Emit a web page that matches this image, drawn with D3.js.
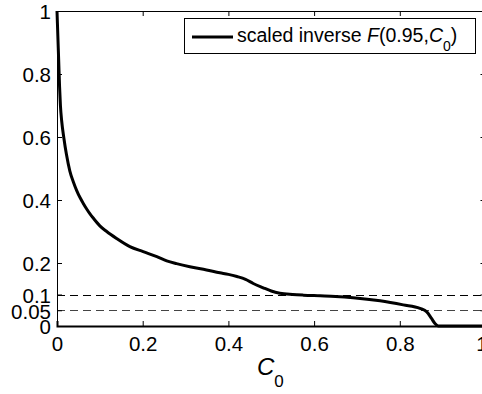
<!DOCTYPE html>
<meta charset="utf-8">
<body style="margin:0;background:#fff">
<style>
text { font-family: "Liberation Sans", Arial, sans-serif; fill: #000; }
.curve { fill: none; stroke: #000; stroke-width: 3px; stroke-linejoin: round; }
.frame line, .frame path { stroke: #000; }
</style>
<script src="https://cdn.jsdelivr.net/npm/d3@7"></script>
<script>

// curve: C0 -> scaled inverse F(0.95, C0)
var c0 = [0, 0.002, 0.004, 0.006, 0.008, 0.011, 0.016, 0.022, 0.030, 0.038, 0.046, 0.054, 0.061, 0.070,
          0.077, 0.085, 0.100, 0.116, 0.139, 0.170, 0.201, 0.233, 0.256, 0.279, 0.310, 0.349, 0.380,
          0.400, 0.420, 0.440, 0.458, 0.480, 0.500, 0.520, 0.550, 0.575, 0.614, 0.650, 0.691, 0.754,
          0.808, 0.847, 0.863, 0.874, 0.882, 0.890, 1];
var fval = [1, 0.92, 0.84, 0.76, 0.70, 0.650, 0.597, 0.545, 0.492, 0.458, 0.430, 0.407, 0.390, 0.370,
            0.356, 0.342, 0.318, 0.300, 0.278, 0.252, 0.236, 0.220, 0.207, 0.198, 0.188, 0.178, 0.169,
            0.164, 0.157, 0.148, 0.135, 0.122, 0.111, 0.104, 0.100, 0.098, 0.096, 0.094, 0.090, 0.080,
            0.067, 0.056, 0.045, 0.024, 0.008, 0, 0];

var xTicks = [0, 0.2, 0.4, 0.6, 0.8, 1];
var yTicks = [0, 0.05, 0.1, 0.2, 0.4, 0.6, 0.8, 1];
var refLines = [0.1, 0.05];

var W = 482, H = 394;
var pLeft = 57, pTop = 11, pRight = 485.5, pBottom = 326;
var tickFont = "20.5px";

var svg = d3.select("body").append("svg")
    .attr("width", W)
    .attr("height", H);

var x = d3.scaleLinear().domain([0, 1]).range([pLeft, pRight]);
var y = d3.scaleLinear().domain([0, 1]).range([pBottom, pTop]);

// dashed reference levels
svg.selectAll(".ref")
    .data(refLines)
  .enter().append("line")
    .attr("x1", x(0)).attr("x2", x(1))
    .attr("y1", function(d) { return Math.round(y(d)) + 0.5; })
    .attr("y2", function(d) { return Math.round(y(d)) + 0.5; })
    .style("stroke", function(d, i) { return i ? "#444" : "#000"; })
    .style("stroke-width", 1)
    .style("stroke-dasharray", "8,5");

var pts = c0.map(function(d, i) { return [d, fval[i]]; });
svg.append("path")
    .attr("class", "curve")
    .datum(pts)
    .attr("d", d3.line()
        .x(function(d) { return x(d[0]); })
        .y(function(d) { return y(d[1]); })
        .curve(d3.curveMonotoneX));

// axes, ticks pointing inwards, mirrored on top/right
var fmt = function(d) { return d3.format("")(d); };
var gx = svg.append("g").attr("class", "frame")
    .attr("transform", "translate(0," + pBottom + ")")
    .call(d3.axisBottom(x).tickValues(xTicks).tickSize(-5).tickPadding(10).tickFormat(fmt));
gx.select(".domain").style("stroke-width", 2);
gx.selectAll("text").style("font-size", tickFont).attr("dy", "0.71em")
    .attr("dx", function(d) { return d === 1 ? -4 : 0; });

var gy = svg.append("g").attr("class", "frame")
    .attr("transform", "translate(" + pLeft + ",0)")
    .call(d3.axisLeft(y).tickValues(yTicks).tickSize(-5).tickPadding(6).tickFormat(fmt));
gy.selectAll("text").style("font-size", tickFont).attr("dy", "0.38em");

svg.append("g").attr("class", "frame")
    .attr("transform", "translate(0," + pTop + ")")
    .call(d3.axisTop(x).tickValues(xTicks).tickSize(-5).tickFormat(""));
svg.append("g").attr("class", "frame")
    .attr("transform", "translate(" + pRight + ",0)")
    .call(d3.axisRight(y).tickValues(yTicks).tickSize(-5).tickFormat(""));
svg.selectAll(".frame .domain").style("fill", "none");

// x label
var xl = svg.append("text")
    .attr("x", 257)
    .attr("y", 375)
    .style("font-size", "24px");
xl.append("tspan").style("font-style", "italic").text("C");
xl.append("tspan").attr("dy", 12).style("font-size", "17px").text("0");

// legend
var lg = svg.append("g");
lg.append("rect")
    .attr("x", 184.5).attr("y", 18.5)
    .attr("width", 291).attr("height", 35)
    .style("fill", "#fff").style("stroke", "#000");
lg.append("line")
    .attr("x1", 192).attr("x2", 233)
    .attr("y1", 37).attr("y2", 37)
    .style("stroke", "#000").style("stroke-width", 3);
var lt = lg.append("text")
    .attr("x", 237).attr("y", 42)
    .style("font-size", "19.5px");
lt.append("tspan").text("scaled inverse ");
lt.append("tspan").style("font-style", "italic").text("F");
lt.append("tspan").text("(0.95,");
lt.append("tspan").style("font-style", "italic").text("C");
lt.append("tspan").attr("dy", 9).style("font-size", "14px").text("0");
lt.append("tspan").attr("dy", -9).text(")");

</script>
